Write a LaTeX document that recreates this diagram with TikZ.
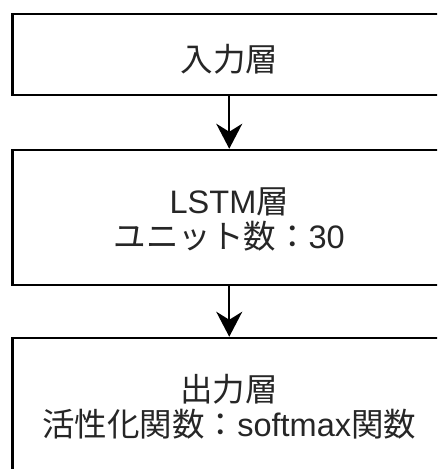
\documentclass[tikz,border=0pt]{standalone}
\usepackage{fontspec}
\setmainfont{Liberation Sans}
\newfontfamily\cjk{Noto Sans CJK JP}
\usetikzlibrary{arrows.meta}
\begin{document}
\begin{tikzpicture}[x=1pt,y=-1pt,
  layerbox/.style={draw=black,line width=2.5pt,fill=white,inner sep=0pt,
    minimum width=433.5pt},
  label text/.style={align=center,inner sep=0pt,text=black!85,
    font=\fontsize{32.5}{35}\selectfont},
  flow/.style={line width=2pt,-{Stealth[length=25pt,width=26pt,inset=8pt]}}]
\useasboundingbox (0,0) rectangle (437,469);
\clip (0,0) rectangle (437,469);
\node[layerbox,minimum height=81pt] (in) at (229.25,54.5) {};
\node[label text] (intext) at (229.25,59) {\cjk 入力層};
\node[layerbox,minimum height=135pt] (lstm) at (229.25,217.5) {};
\node[label text] (lstmtext) at (229.25,219) {LSTM{\cjk 層}\\{\cjk ユニット数：}30};
\node[layerbox,minimum height=140pt] (out) at (229.25,408) {};
\node[label text] (outtext) at (229.25,406.5) {{\cjk 出力層}\\{\cjk 活性化関数：}softmax{\cjk 関数}};
\draw[flow] (in.south) -- (lstm.north);
\draw[flow] (lstm.south) -- (out.north);
\end{tikzpicture}
\end{document}
